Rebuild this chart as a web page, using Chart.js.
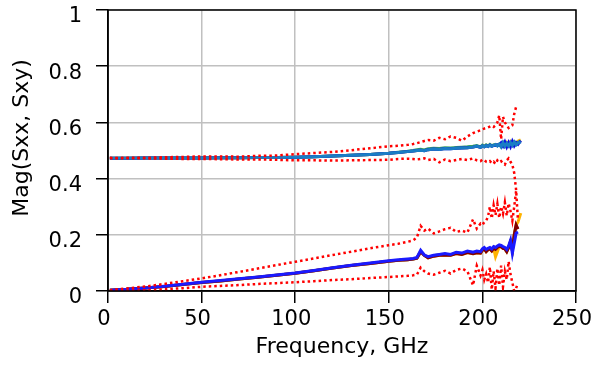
<!DOCTYPE html>
<html>
<head>
<meta charset="utf-8">
<script src="https://cdn.jsdelivr.net/npm/chart.js@4/dist/chart.umd.min.js"></script>
<style>
  html, body { margin: 0; padding: 0; background: #fff; }
  #chart { display: block; }
</style>
</head>
<body>
<canvas id="chart" width="611" height="371"></canvas>
<script>
// Frequency points, GHz
var freq = [1, 10, 20, 30, 40, 50, 60, 70, 80, 90,
  100, 110, 120, 130, 140, 150, 155, 160, 163, 165,
  167, 169, 171, 174, 177, 180, 183, 186, 189, 192,
  195, 197, 199, 200, 201, 202, 203, 204, 205, 206,
  207, 208, 209, 210, 211, 212, 213, 214, 215, 216,
  217, 218, 219, 220.5];

// Sxx group (around 0.47 - 0.53)
var sxxMain = [0.472, 0.472, 0.473, 0.473, 0.473, 0.473, 0.474, 0.474, 0.475, 0.475,
  0.476, 0.478, 0.480, 0.483, 0.486, 0.490, 0.493, 0.496, 0.498, 0.500,
  0.501, 0.499, 0.503, 0.505, 0.504, 0.507, 0.506, 0.508, 0.509, 0.510,
  0.512, 0.516, 0.511, 0.516, 0.513, 0.517, 0.514, 0.519, 0.515, 0.518,
  0.521, 0.516, 0.523, 0.513, 0.528, 0.515, 0.525, 0.516, 0.528, 0.518,
  0.530, 0.520, 0.527, 0.531];
var sxxGold = [0.472, 0.472, 0.473, 0.473, 0.473, 0.473, 0.474, 0.474, 0.475, 0.475,
  0.476, 0.478, 0.480, 0.483, 0.486, 0.490, 0.493, 0.496, 0.498, 0.500,
  0.501, 0.500, 0.503, 0.505, 0.505, 0.507, 0.507, 0.508, 0.510, 0.510,
  0.513, 0.515, 0.512, 0.517, 0.514, 0.518, 0.516, 0.520, 0.516, 0.519,
  0.520, 0.518, 0.522, 0.516, 0.526, 0.517, 0.528, 0.520, 0.531, 0.522,
  0.529, 0.524, 0.533, 0.538];
var sxxGreen = [0.472, 0.472, 0.473, 0.473, 0.473, 0.473, 0.474, 0.474, 0.475, 0.475,
  0.476, 0.478, 0.480, 0.483, 0.486, 0.490, 0.494, 0.497, 0.500, 0.503,
  0.504, 0.502, 0.506, 0.508, 0.507, 0.510, 0.509, 0.511, 0.512, 0.513,
  0.515, 0.518, 0.513, 0.519, 0.515, 0.520, 0.516, 0.522, 0.517, 0.520,
  0.521, 0.517, 0.522, 0.514, 0.527, 0.516, 0.526, 0.518, 0.528, 0.520,
  0.530, 0.522, 0.529, 0.533];
var sxxBlue = [0.472, 0.472, 0.473, 0.473, 0.473, 0.473, 0.474, 0.474, 0.475, 0.475,
  0.476, 0.478, 0.480, 0.483, 0.486, 0.490, 0.493, 0.496, 0.498, 0.500,
  0.501, 0.499, 0.503, 0.505, 0.504, 0.507, 0.506, 0.508, 0.509, 0.510,
  0.512, 0.515, 0.511, 0.516, 0.513, 0.517, 0.514, 0.519, 0.515, 0.518,
  0.518, 0.520, 0.519, 0.527, 0.516, 0.530, 0.513, 0.528, 0.514, 0.532,
  0.517, 0.528, 0.522, 0.535];
var sxxHi = [0.473, 0.474, 0.474, 0.476, 0.477, 0.479, 0.479, 0.478, 0.481, 0.482,
  0.487, 0.491, 0.495, 0.501, 0.508, 0.515, 0.517, 0.520, 0.523, 0.526,
  0.530, 0.534, 0.537, 0.535, 0.545, 0.540, 0.550, 0.545, 0.535, 0.550,
  0.562, 0.567, 0.572, 0.575, 0.578, 0.580, 0.582, 0.585, 0.588, 0.584,
  0.590, 0.600, 0.625, 0.540, 0.620, 0.600, 0.590, 0.580, 0.585, 0.590,
  0.630, 0.655, null, null];
var sxxLo = [0.473, 0.472, 0.472, 0.471, 0.470, 0.470, 0.469, 0.468, 0.468, 0.467,
  0.465, 0.465, 0.464, 0.465, 0.466, 0.467, 0.470, 0.471, 0.470, 0.468,
  0.470, 0.472, 0.466, 0.470, 0.458, 0.468, 0.462, 0.466, 0.470, 0.466,
  0.472, 0.465, 0.462, 0.468, 0.466, 0.460, 0.458, 0.462, 0.455, 0.460,
  0.452, 0.465, 0.458, 0.462, 0.455, 0.450, 0.465, 0.472, 0.460, 0.450,
  0.420, 0.360, 0.250, null];

// Sxy group (rising from 0 to ~0.2)
var sxyMain = [0.003, 0.006, 0.011, 0.017, 0.024, 0.031, 0.037, 0.044, 0.050, 0.057,
  0.064, 0.073, 0.083, 0.092, 0.100, 0.108, 0.111, 0.114, 0.116, 0.119,
  0.145, 0.128, 0.122, 0.127, 0.130, 0.133, 0.130, 0.138, 0.135, 0.142,
  0.138, 0.142, 0.140, 0.150, 0.155, 0.148, 0.152, 0.155, 0.150, 0.158,
  0.155, 0.160, 0.164, 0.162, 0.158, 0.155, 0.148, 0.160, 0.180, 0.134,
  0.170, 0.206, 0.210, null];
var sxyMaroon = [0.003, 0.006, 0.011, 0.016, 0.023, 0.030, 0.036, 0.043, 0.049, 0.056,
  0.063, 0.072, 0.082, 0.091, 0.098, 0.106, 0.109, 0.111, 0.114, 0.117,
  0.140, 0.127, 0.118, 0.124, 0.127, 0.128, 0.127, 0.133, 0.130, 0.137,
  0.133, 0.136, 0.135, 0.145, 0.150, 0.140, 0.147, 0.150, 0.143, 0.152,
  0.148, 0.155, 0.160, 0.157, 0.152, 0.150, 0.140, 0.155, 0.175, 0.145,
  0.200, 0.235, 0.220, null];
var sxyGray = [0.003, 0.006, 0.011, 0.016, 0.023, 0.030, 0.036, 0.043, 0.049, 0.056,
  0.063, 0.072, 0.082, 0.091, 0.098, 0.106, 0.109, 0.111, 0.114, 0.117,
  0.138, 0.126, 0.120, 0.126, 0.130, 0.131, 0.128, 0.136, 0.132, 0.140,
  0.136, 0.140, 0.138, 0.146, 0.151, 0.142, 0.148, 0.152, 0.145, 0.154,
  0.150, 0.156, 0.161, 0.158, 0.153, 0.151, 0.142, 0.156, 0.176, 0.146,
  0.198, 0.230, 0.222, null];
var sxyOrange = [0.003, 0.006, 0.011, 0.016, 0.023, 0.030, 0.036, 0.043, 0.049, 0.056,
  0.063, 0.072, 0.082, 0.091, 0.098, 0.106, 0.109, 0.111, 0.114, 0.117,
  0.140, 0.127, 0.118, 0.124, 0.127, 0.128, 0.127, 0.133, 0.130, 0.137,
  0.133, 0.136, 0.135, 0.145, 0.150, 0.140, 0.147, 0.150, 0.143, 0.152,
  0.122, 0.140, 0.158, 0.157, 0.152, 0.150, 0.140, 0.155, 0.175, 0.145,
  0.200, 0.235, 0.245, 0.277];
var sxyHi = [0.003, 0.009, 0.016, 0.025, 0.035, 0.045, 0.056, 0.068, 0.080, 0.092,
  0.104, 0.116, 0.128, 0.140, 0.152, 0.163, 0.168, 0.175, 0.180, 0.190,
  0.232, 0.215, 0.222, 0.205, 0.212, 0.220, 0.225, 0.210, 0.215, 0.208,
  0.255, 0.222, 0.240, 0.235, 0.245, 0.250, 0.265, 0.300, 0.258, 0.305,
  0.270, 0.310, 0.260, 0.300, 0.275, 0.315, 0.268, 0.312, 0.285, 0.250,
  0.300, 0.355, null, null];
var sxyLo = [0.000, 0.001, 0.003, 0.006, 0.010, 0.015, 0.018, 0.021, 0.025, 0.028,
  0.031, 0.035, 0.039, 0.042, 0.046, 0.050, 0.052, 0.054, 0.056, 0.058,
  0.083, 0.070, 0.062, 0.058, 0.065, 0.072, 0.062, 0.075, 0.080, 0.070,
  0.020, 0.090, 0.055, 0.075, 0.040, 0.060, 0.030, 0.085, 0.005, 0.070,
  0.010, 0.080, 0.020, 0.090, 0.015, 0.070, 0.040, 0.105, 0.060, 0.030,
  0.000, 0.010, 0.028, null];

var xTicks = [0, 50, 100, 150, 200, 250];
var yTicks = [0, 0.2, 0.4, 0.6, 0.8, 1];

function pts(vals) {
  return freq.map(function(f, i) { return { x: f, y: vals[i] }; });
}

function solid(vals, color, width) {
  return { data: pts(vals), borderColor: color, borderWidth: width || 3,
    pointRadius: 0, tension: 0, showLine: true, spanGaps: false };
}

function dotted(vals) {
  return { data: pts(vals), borderColor: '#ff0000', borderWidth: 2.5,
    borderDash: [2.5, 3], pointRadius: 0, tension: 0, showLine: true, spanGaps: false };
}

// Box round the plot area and the rotated y title
var framePlugin = {
  id: 'frame',
  afterDraw: function(chart) {
    var a = chart.chartArea;
    var ctx = chart.ctx;
    ctx.save();
    ctx.strokeStyle = '#000';
    ctx.lineWidth = 1.5;
    ctx.strokeRect(a.left, a.top, a.right - a.left, a.bottom - a.top);
    ctx.translate(22, 138);
    ctx.rotate(-Math.PI / 2);
    ctx.fillStyle = '#000';
    ctx.font = '22px "DejaVu Sans"';
    ctx.textAlign = 'center';
    ctx.textBaseline = 'middle';
    ctx.fillText('Mag(Sxx, Sxy)', 0, 0);
    ctx.restore();
  }
};

var ctx = document.getElementById('chart');
var myChart = new Chart(ctx, {
  type: 'scatter',
  data: {
    datasets: [
      dotted(sxxHi), dotted(sxxLo), dotted(sxyHi), dotted(sxyLo),
      solid(sxyMain, '#1a1aff'),
      solid(sxxMain, '#1a7dc4'),
      solid(sxxBlue, '#1010e0'),
      solid(sxxGreen, '#3aa060'),
      solid(sxxGold, '#f2b21c'),
      solid(sxyMaroon, '#800000'),
      solid(sxyGray, '#8c8c8c'),
      solid(sxyOrange, '#ffb300')
    ]
  },
  options: {
    responsive: false,
    animation: false,
    devicePixelRatio: 1,
    layout: { padding: { top: 10, right: 35, left: 0, bottom: 0 } },
    plugins: { legend: { display: false }, tooltip: { enabled: false } },
    scales: {
      x: {
        type: 'linear', min: 0, max: 250,
        afterBuildTicks: function(s) { s.ticks = xTicks.map(function(v) { return { value: v }; }); },
        afterFit: function(s) { s.height = 80; s.paddingLeft = 0; s.paddingRight = 0; },
        ticks: { color: '#000', font: { family: 'DejaVu Sans', size: 21, lineHeight: 1 },
          padding: 6, labelOffset: -4, maxRotation: 0 },
        grid: { color: '#c0c0c0', lineWidth: 1.5, tickColor: '#000', tickWidth: 1.5, tickLength: 12 },
        border: { color: '#000', width: 1.5 },
        title: { display: true, text: 'Frequency, GHz', color: '#000',
          font: { family: 'DejaVu Sans', size: 22 }, padding: { top: 0, bottom: 11 } }
      },
      y: {
        type: 'linear', min: 0, max: 1,
        afterBuildTicks: function(s) { s.ticks = yTicks.map(function(v) { return { value: v }; }); },
        afterFit: function(s) { s.width = 108; s.paddingTop = 0; s.paddingBottom = 0; },
        ticks: { color: '#000', font: { family: 'DejaVu Sans', size: 21, lineHeight: 0.9 },
          padding: 14, labelOffset: 7,
          callback: function(v) { return String(+v.toFixed(1)); } },
        grid: { color: '#c0c0c0', lineWidth: 1.5, tickColor: '#000', tickWidth: 1.5, tickLength: 12 },
        border: { color: '#000', width: 1.5 }
      }
    }
  },
  plugins: [framePlugin]
});
</script>
</body>
</html>
